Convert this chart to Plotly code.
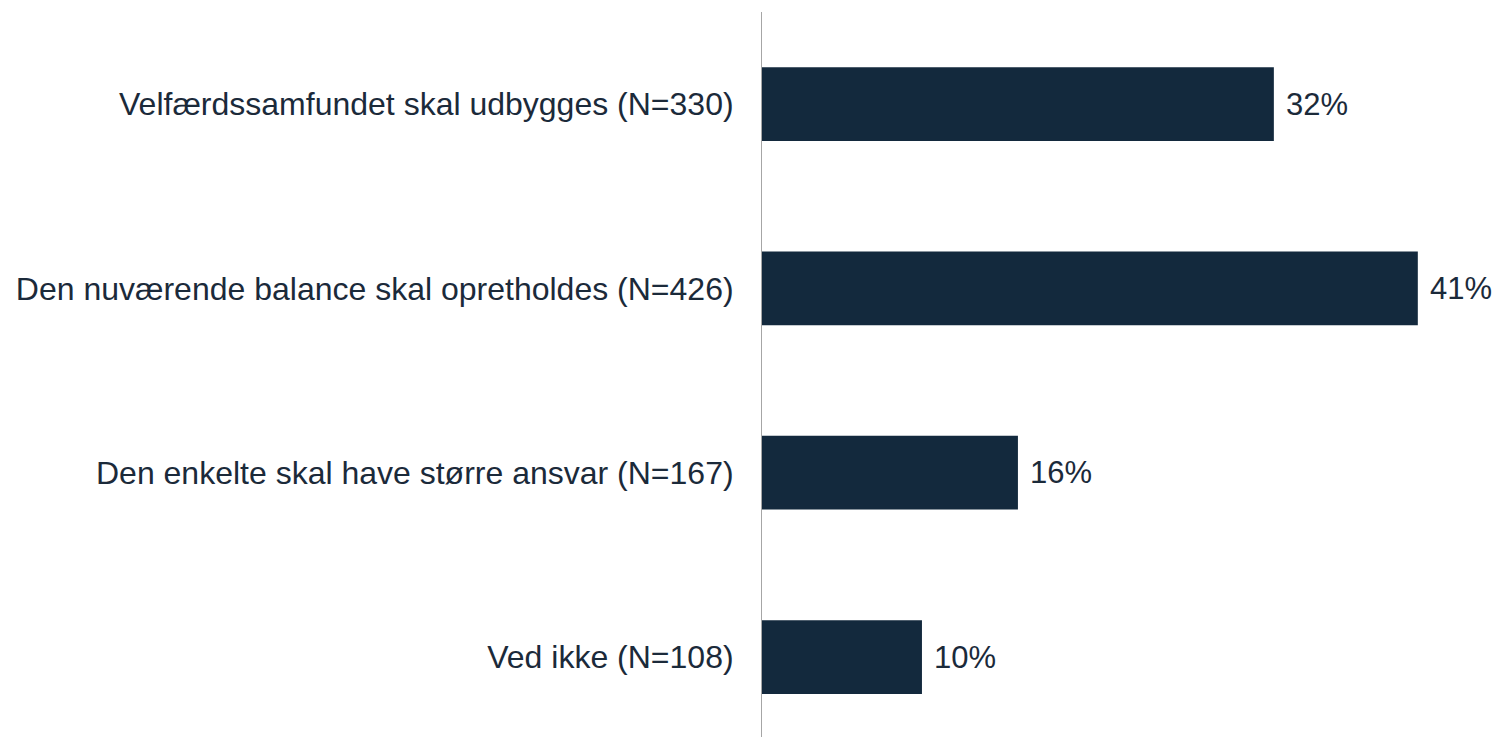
import plotly.graph_objects as go

categories = [
    "Velfærdssamfundet skal udbygges (N=330)",
    "Den nuværende balance skal opretholdes (N=426)",
    "Den enkelte skal have større ansvar (N=167)",
    "Ved ikke (N=108)",
]
values = [32, 41, 16, 10]
labels = ["32%", "41%", "16%", "10%"]

bar_color = "#13293D"
text_color = "#1B2A3A"
FONT = "Liberation Sans, Arial"

fig = go.Figure()
fig.add_trace(go.Bar(
    y=categories,
    x=values,
    orientation="h",
    marker=dict(color=bar_color, line=dict(width=0)),
    hoverinfo="skip",
))

for c, v, t in zip(categories, values, labels):
    fig.add_annotation(x=v, y=c, text=t, showarrow=False, xanchor="left",
                       xshift=10, font=dict(size=31, color=text_color, family=FONT))

fig.update_layout(
    width=1485, height=729,
    margin=dict(l=754, r=0, t=4, b=0),
    plot_bgcolor="white", paper_bgcolor="white",
    showlegend=False,
    bargap=0.6,
    font=dict(family=FONT, size=32, color=text_color),
)
fig.update_xaxes(range=[0, 45.7], visible=False, showgrid=False, zeroline=False)
fig.update_yaxes(range=[3.434, -0.5], showgrid=False, zeroline=False,
                 showline=True, linecolor="#A6A6A6", linewidth=1,
                 ticks="", ticklabelstandoff=21,
                 tickfont=dict(size=32, color=text_color, family=FONT))

fig.write_html("out.html")
